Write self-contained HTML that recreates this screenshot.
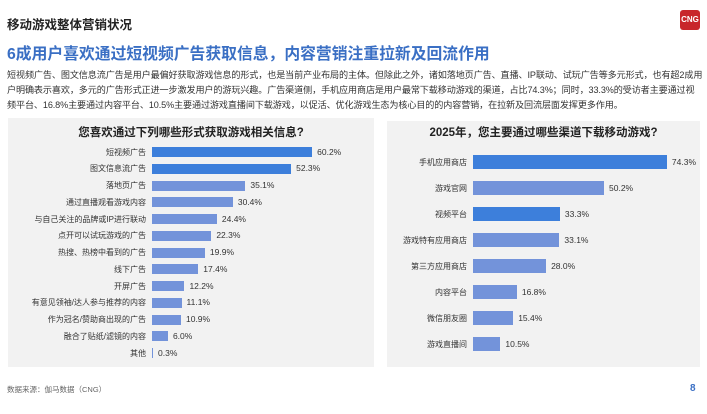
<!DOCTYPE html>
<html><head><meta charset="utf-8"><style>
*{margin:0;padding:0;box-sizing:border-box}
body{width:707px;height:414px;background:#fff;font-family:"Liberation Sans","Noto Sans CJK SC",sans-serif;position:relative;overflow:hidden;color:#222}
.a{position:absolute;white-space:nowrap}
.p{background:#f2f2f2;position:absolute}
.l{position:absolute;font-size:8px;color:#333;text-align:right}
.b{position:absolute;background:#7393da}
.d{background:#3d7fdb}
.v{position:absolute;font-size:8.5px;color:#333}
</style></head><body>
<div class="a" style="left:7px;top:14px;font-size:12.5px;font-weight:bold;color:#222">移动游戏整体营销状况</div>
<div class="a" style="left:680px;top:10px;width:20px;height:20px;background:#c8262b;border-radius:3px;color:#fff;font-size:8px;font-weight:bold;text-align:center;line-height:20px">CNG</div>
<div class="a" style="left:7px;top:41px;font-size:15.8px;color:#3a6fc4;font-weight:bold">6成用户喜欢通过短视频广告获取信息，内容营销注重拉新及回流作用</div>
<div class="a" style="left:7px;top:68px;font-size:9.1px;line-height:15px;color:#333;letter-spacing:-0.12px">短视频广告、图文信息流广告是用户最偏好获取游戏信息的形式，也是当前产业布局的主体。但除此之外，诸如落地页广告、直播、IP联动、试玩广告等多元形式，也有超2成用<br>户明确表示喜欢，多元的广告形式正进一步激发用户的游玩兴趣。广告渠道侧，手机应用商店是用户最常下载移动游戏的渠道，占比74.3%；同时，33.3%的受访者主要通过视<br>频平台、16.8%主要通过内容平台、10.5%主要通过游戏直播间下载游戏，以促活、优化游戏生态为核心目的的内容营销，在拉新及回流层面发挥更多作用。</div>
<div class="p" style="left:8px;top:118px;width:366px;height:249px"></div>
<div class="p" style="left:387px;top:121px;width:313px;height:246px"></div>
<div class="a" style="left:8px;width:366px;top:124px;text-align:center;font-size:11.5px;font-weight:bold;color:#222">您喜欢通过下列哪些形式获取游戏相关信息?</div>
<div class="a" style="left:387px;width:313px;top:124px;text-align:center;font-size:11.5px;font-weight:bold;color:#222">2025年，您主要通过哪些渠道下载移动游戏?</div>
<div id="L"></div>
<div class="a" style="left:7px;top:384px;font-size:7.5px;color:#666">数据来源：伽马数据（CNG）</div>
<div class="a" style="left:690px;top:383px;font-size:10px;color:#3a6fc4;font-weight:bold">8</div>
<script>
var L=[["短视频广告",60.2,1],["图文信息流广告",52.3,1],["落地页广告",35.1],["通过直播观看游戏内容",30.4],["与自己关注的品牌或IP进行联动",24.4],["点开可以试玩游戏的广告",22.3],["热搜、热榜中看到的广告",19.9],["线下广告",17.4],["开屏广告",12.2],["有意见领袖/达人参与推荐的内容",11.1],["作为冠名/赞助商出现的广告",10.9],["融合了贴纸/滤镜的内容",6.0],["其他",0.3]];
var R=[["手机应用商店",74.3,1],["游戏官网",50.2],["视频平台",33.3,1],["游戏特有应用商店",33.1],["第三方应用商店",28.0],["内容平台",16.8],["微信朋友圈",15.4],["游戏直播间",10.5]];
var h="";
L.forEach(function(r,i){var y=152+i*16.75,w=Math.max(r[1]*2.66,1);
h+='<div class="l" style="left:0;width:146px;top:'+(y-5.5)+'px">'+r[0]+'</div>';
h+='<div class="b'+(r[2]?' d':'')+'" style="left:152px;width:'+w+'px;top:'+(y-5)+'px;height:10px"></div>';
h+='<div class="v" style="left:'+(152+w+5)+'px;top:'+(y-5.5)+'px">'+r[1].toFixed(1)+'%</div>';});
R.forEach(function(r,i){var y=162+i*26,w=r[1]*2.61;
h+='<div class="l" style="left:380px;width:87px;top:'+(y-5.5)+'px">'+r[0]+'</div>';
h+='<div class="b'+(r[2]?' d':'')+'" style="left:473px;width:'+w+'px;top:'+(y-7)+'px;height:14px"></div>';
h+='<div class="v" style="left:'+(473+w+5)+'px;top:'+(y-5.5)+'px">'+r[1].toFixed(1)+'%</div>';});
document.getElementById("L").innerHTML=h;
</script>
</body></html>
